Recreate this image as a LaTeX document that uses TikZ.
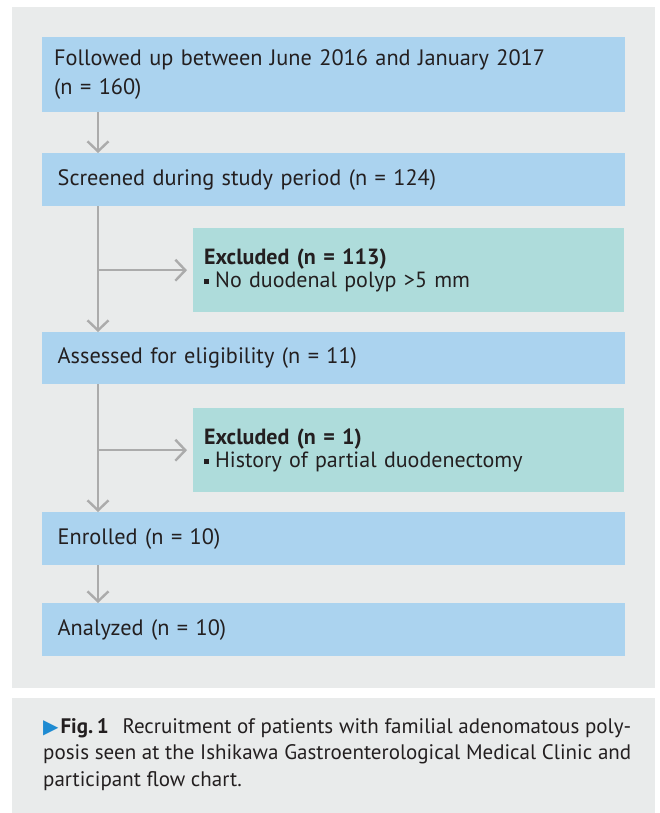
\documentclass[tikz,border=0pt]{standalone}
\usepackage{fontspec}
\setmainfont{PT Sans}
\newfontfamily\symfont{DejaVu Sans}
\usetikzlibrary{arrows.meta}
\definecolor{panel}{HTML}{E9EBEB}
\definecolor{boxblue}{HTML}{ABD3EF}
\definecolor{boxteal}{HTML}{AEDCDB}
\definecolor{arrowgray}{HTML}{ABABAB}
\definecolor{txt}{HTML}{231F20}
\definecolor{capblue}{HTML}{1E8BD2}
\begin{document}
\begin{tikzpicture}[x=1bp,y=-1bp,
  every node/.style={text=txt},
  mainbox/.style={fill=boxblue, draw=none, anchor=north west, inner xsep=15.5bp, inner ysep=0bp,
    minimum width=583bp, text width=552bp, align=left,
    font=\fontsize{22.3bp}{29bp}\selectfont},
  exbox/.style={fill=boxteal, draw=none, anchor=north west, inner xsep=11bp, inner ysep=0bp,
    minimum width=431bp, minimum height=84bp, text width=409bp, align=left,
    font=\fontsize{22bp}{22.5bp}\selectfont},
  flow/.style={draw=arrowgray, line width=2.4bp, -{Straight Barb[length=10bp,width=21bp]}},
  capline/.style={anchor=base west, inner sep=0bp, font=\fontsize{21bp}{26bp}\selectfont}
]
\useasboundingbox[fill=white] (0,0) rectangle (660,813);
\fill[panel] (12,7) rectangle (655,688);
\fill[panel] (12,698) rectangle (655,813);

\node[mainbox, minimum height=75bp, inner xsep=12bp, text width=559bp] (b1) at (42,37) {Followed up between June 2016 and January 2017\\(n = 160)};
\node[mainbox, minimum height=53bp] (b2) at (42,153) {Screened during study period (n = 124)};
\node[exbox] (e1) at (193,228) {\textbf{Excluded (n = 113)}\\\rule[3bp]{5bp}{5bp}\hspace{6bp}No duodenal polyp >5 mm};
\node[mainbox, minimum height=52bp] (b3) at (42,332) {Assessed for eligibility (n = 11)};
\node[exbox] (e2) at (193,408) {\textbf{Excluded (n = 1)}\\\rule[3bp]{5bp}{5bp}\hspace{6bp}History of partial duodenectomy};
\node[mainbox, minimum height=53bp] (b4) at (42,512) {Enrolled (n = 10)};
\node[mainbox, minimum height=53bp] (b5) at (42,603) {Analyzed (n = 10)};

\draw[flow] ([xshift=56bp]b1.south west) -- ([xshift=56bp]b2.north west);
\draw[flow] ([xshift=56bp]b2.south west) -- ([xshift=56bp]b3.north west);
\draw[flow] ([xshift=56bp]b2.south west |- e1.west) -- ([xshift=-6bp]e1.west);
\draw[flow] ([xshift=56bp]b3.south west) -- ([xshift=56bp]b4.north west);
\draw[flow] ([xshift=56bp]b3.south west |- e2.west) -- ([xshift=-6bp]e2.west);
\draw[flow] ([xshift=56bp]b4.south west) -- ([xshift=56bp]b5.north west);

\node[capline] (c1) at (43,733) {\makebox[588bp][s]{{\symfont\fontsize{20bp}{20bp}\selectfont\color{capblue}▶}\hspace{2bp}\textbf{Fig.\,1}\hspace{8bp} Recruitment of patients with familial adenomatous poly-}};
\node[capline] (c2) at (43,759.5) {\makebox[588bp][s]{posis seen at the Ishikawa Gastroenterological Medical Clinic and}};
\node[capline] (c3) at (43,786) {participant flow chart.};
\end{tikzpicture}
\end{document}
